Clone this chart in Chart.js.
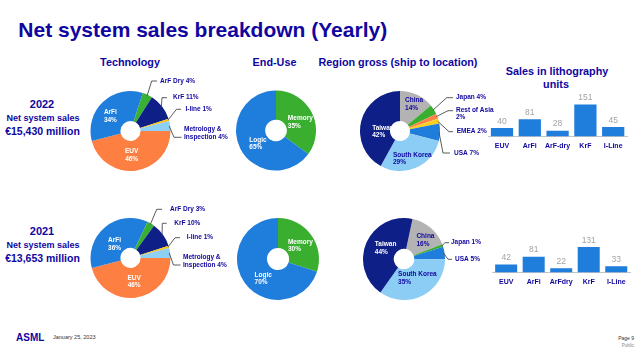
<!DOCTYPE html>
<html><head><meta charset="utf-8">
<script src="https://cdn.jsdelivr.net/npm/chart.js@4.4.1/dist/chart.umd.min.js"></script>
<style>
html,body{margin:0;padding:0;background:#fff;}
body{width:640px;height:355px;position:relative;overflow:hidden;font-family:"Liberation Sans",Arial,sans-serif;}
.t{position:absolute;white-space:nowrap;line-height:1;font-weight:bold;color:#10069f;}
canvas{position:absolute;}
</style></head><body>
<script>
// ---------- DATA ----------
const techLabels = ['EUV', 'ArFi', 'ArF Dry', 'KrF', 'I-line', 'Metrology &\nInspection'];
const tech2022 = [46, 34, 4, 11, 1, 4];
const tech2021 = [46, 36, 3, 10, 1, 4];
const endUseLabels = ['Memory', 'Logic'];
const endUse2022 = [35, 65];
const endUse2021 = [30, 70];
const region2022Labels = ['China', 'Japan', 'Rest of Asia', 'EMEA', 'USA', 'South Korea', 'Taiwan'];
const region2022 = [14, 4, 2, 2, 7, 29, 42];
const region2021Labels = ['China', 'Japan', 'USA', 'South Korea', 'Taiwan'];
const region2021 = [16, 1, 5, 35, 44];
const units2022Labels = ['EUV', 'ArFi', 'ArF-dry', 'KrF', 'I-Line'];
const units2022 = [40, 81, 28, 151, 45];
const units2021Labels = ['EUV', 'ArFi', 'ArFdry', 'KrF', 'I-Line'];
const units2021 = [42, 81, 22, 131, 33];
const yearLabels = ['2022', '2021'];
const netSalesLabels = ['€15,430 million', '€13,653 million'];

// ---------- STYLE ----------
const NAVY = '#10069f';
const FONT = '"Liberation Sans", Arial, sans-serif';
const techColors = ['#fd7f42', '#1f7ddb', '#37b034', '#0e1f87', '#f7c41c', '#8ecff5'];
const endUseColors = ['#3aae2f', '#1f7ddb'];
const region2022Colors = ['#b3b3b3', '#3aae2f', '#fe8549', '#fdd020', '#1f7ddb', '#8ccdf5', '#0f1f88'];
const region2021Colors = ['#b3b3b3', '#3aae2f', '#1f7ddb', '#8ccdf5', '#0f1f88'];
const BAR = '#1f7ddb';

function txt(s, x, y, size, opts) {
  opts = opts || {};
  const d = document.createElement('div');
  d.className = 't';
  d.textContent = s;
  d.style.fontSize = size + 'px';
  d.style.top = (y - 0.49 * size) + 'px';
  if (opts.weight) d.style.fontWeight = opts.weight;
  if (opts.color) d.style.color = opts.color;
  if (opts.align === 'center') { d.style.left = x + 'px'; d.style.transform = 'translateX(-50%)'; }
  else if (opts.align === 'right') { d.style.right = (640 - x) + 'px'; }
  else d.style.left = x + 'px';
  document.body.appendChild(d);
}

function mkCanvas(box) {
  const c = document.createElement('canvas');
  c.width = box.w; c.height = box.h;
  c.style.left = box.x + 'px'; c.style.top = box.y + 'px';
  c.style.width = box.w + 'px'; c.style.height = box.h + 'px';
  document.body.appendChild(c);
  return c;
}

const sliceLabels = {
  id: 'sliceLabels',
  afterDatasetsDraw(chart, args, cfg) {
    const meta = chart.getDatasetMeta(0);
    const ds = chart.data.datasets[0];
    const ctx = chart.ctx;
    ctx.save();
    ctx.font = 'bold 6.5px ' + FONT;
    ctx.textBaseline = 'middle';
    (cfg.inside || []).forEach(s => {
      const p = meta.data[s.i].tooltipPosition();
      const lines = [chart.data.labels[s.i], ds.data[s.i] + '%'];
      const x = p.x + (s.dx || 0), y = p.y + (s.dy || 0);
      const lh = 7.6;
      const w = Math.max(...lines.map(l => ctx.measureText(l).width));
      ctx.fillStyle = s.color;
      lines.forEach((l, k) => {
        const ly = y + (k - (lines.length - 1) / 2) * lh;
        if (s.align === 'left') { ctx.textAlign = 'left'; ctx.fillText(l, x - w / 2, ly); }
        else { ctx.textAlign = 'center'; ctx.fillText(l, x, ly); }
      });
    });
    (cfg.outside || []).forEach(s => {
      const a = meta.data[s.i].getProps(['x', 'y', 'startAngle', 'endAngle', 'outerRadius'], true);
      const mid = (a.startAngle + a.endAngle) / 2;
      const sx = a.x + Math.cos(mid) * (a.outerRadius - 1);
      const sy = a.y + Math.sin(mid) * (a.outerRadius - 1);
      ctx.strokeStyle = '#4a4a4a';
      ctx.lineWidth = 0.9;
      ctx.beginPath();
      ctx.moveTo(sx, sy);
      ctx.lineTo(a.x + s.elbow[0], a.y + s.elbow[1]);
      ctx.lineTo(a.x + s.end[0], a.y + s.end[1]);
      ctx.stroke();
      let lines = String(chart.data.labels[s.i]).split('\n');
      const v = ds.data[s.i] + '%';
      if (s.mode === 'two') lines.push(v);
      else lines[lines.length - 1] += ' ' + v;
      ctx.fillStyle = NAVY;
      ctx.textAlign = 'left';
      lines.forEach((l, k) => ctx.fillText(l, a.x + s.text[0], a.y + s.text[1] + k * (s.lh || 8)));
    });
    ctx.restore();
  }
};

function doughnut(box, cx, cy, r, labels, values, colors, rotation, cutout, labelCfg) {
  const c = mkCanvas(box);
  new Chart(c, {
    type: 'doughnut',
    data: { labels: labels, datasets: [{ data: values, backgroundColor: colors, borderWidth: 0, hoverOffset: 0, hoverBorderWidth: 0, offset: 0 }] },
    options: {
      responsive: false, devicePixelRatio: 1, animation: false, events: [],
      rotation: rotation, cutout: cutout,
      layout: { padding: { left: cx - r - box.x, top: cy - r - box.y, right: box.x + box.w - (cx + r), bottom: box.y + box.h - (cy + r) } },
      plugins: { legend: { display: false }, tooltip: { enabled: false }, sliceLabels: labelCfg }
    },
    plugins: [sliceLabels]
  });
}

const barValues = {
  id: 'barValues',
  afterDatasetsDraw(chart) {
    const meta = chart.getDatasetMeta(0);
    const ctx = chart.ctx;
    ctx.save();
    ctx.font = '8.5px ' + FONT;
    ctx.fillStyle = '#a3a3a3';
    ctx.textAlign = 'center';
    ctx.textBaseline = 'bottom';
    meta.data.forEach((b, i) => ctx.fillText(String(chart.data.datasets[0].data[i]), b.x, b.y - 2.5));
    ctx.restore();
  }
};

function bars(box, pad, labels, values, max) {
  const c = mkCanvas(box);
  new Chart(c, {
    type: 'bar',
    data: { labels: labels, datasets: [{ data: values, backgroundColor: BAR, borderWidth: 0, barPercentage: 0.8, categoryPercentage: 1.0 }] },
    options: {
      responsive: false, devicePixelRatio: 1, animation: false, events: [],
      layout: { padding: pad },
      plugins: { legend: { display: false }, tooltip: { enabled: false } },
      scales: {
        x: {
          grid: { display: false, drawTicks: false },
          border: { display: true, color: '#c6c6c6', width: 1 },
          ticks: { color: NAVY, font: { family: FONT, size: 7, weight: 'bold' }, padding: 5, maxRotation: 0, autoSkip: false }
        },
        y: { display: false, min: 0, max: max }
      }
    },
    plugins: [barValues]
  });
}

// ---------- TEXT ----------
txt('Net system sales breakdown (Yearly)', 18.3, 29.5, 21);
txt('Technology', 130, 62, 10.8, { align: 'center' });
txt('End-Use', 274.5, 62, 10.8, { align: 'center' });
txt('Region gross (ship to location)', 398, 62, 10.8, { align: 'center' });
txt('Sales in lithography', 557, 71.5, 10.8, { align: 'center' });
txt('units', 556, 84, 10.8, { align: 'center' });

txt(yearLabels[0], 42, 104, 11, { align: 'center' });
txt('Net system sales', 43, 118.3, 9, { align: 'center' });
txt(netSalesLabels[0], 42.5, 130.7, 10.5, { align: 'center' });
txt(yearLabels[1], 42, 231.7, 11, { align: 'center' });
txt('Net system sales', 43, 245, 9, { align: 'center' });
txt(netSalesLabels[1], 42.5, 257.7, 10.5, { align: 'center' });

txt('ASML', 16, 338, 10, {});
txt('January 25, 2023', 53, 338, 5.5, { weight: 'normal', color: '#333' });
txt('Page 9', 634, 338, 5, { weight: 'normal', color: '#333', align: 'right' });
txt('Public', 634, 346.5, 4.5, { weight: 'normal', color: '#888', align: 'right' });

// ---------- DOUGHNUTS ----------
doughnut({ x: 86, y: 72, w: 146, h: 112 }, 130.5, 131, 40, techLabels, tech2022, techColors, 90, '25%', {
  inside: [{ i: 1, dx: -3, dy: 3.5, color: '#fff' }, { i: 0, dx: -2, dy: -0.5, color: '#fff' }],
  outside: [
    { i: 2, elbow: [21.2, -50], end: [26.5, -50], text: [29.5, -50] },
    { i: 3, elbow: [31.5, -33.3], end: [36.5, -33.3], text: [42.5, -33.3] },
    { i: 4, elbow: [46, -21.7], end: [50.5, -21.7], text: [55, -21.7] },
    { i: 5, elbow: [43.5, 6.3], end: [51, 6.3], text: [53.5, -1.7], lh: 8 }
  ]
});
doughnut({ x: 86, y: 200, w: 146, h: 105 }, 130.5, 258, 40, techLabels, tech2021, techColors, 90, '25%', {
  inside: [{ i: 1, dx: 0, dy: 5.5, color: '#fff' }, { i: 0, dx: 0.5, dy: -1, color: '#fff' }],
  outside: [
    { i: 2, elbow: [26.2, -48.7], end: [31.5, -48.7], text: [39.5, -48.7] },
    { i: 3, elbow: [31.8, -34.7], end: [36.2, -34.7], text: [43.8, -34.7] },
    { i: 4, elbow: [44.5, -20.3], end: [49.5, -20.3], text: [56.2, -20.3] },
    { i: 5, elbow: [43, 7], end: [50, 7], text: [52.5, -0.5], lh: 8 }
  ]
});
doughnut({ x: 232, y: 86, w: 90, h: 90 }, 276, 130.5, 40, endUseLabels, endUse2022, endUseColors, 0, '27%', {
  inside: [{ i: 0, dx: 1.7, dy: 3.2, color: '#fff', align: 'left' }, { i: 1, dx: 4.6, dy: 1.7, color: '#fff', align: 'left' }]
});
doughnut({ x: 233, y: 214, w: 92, h: 92 }, 278, 259, 41, endUseLabels, endUse2021, endUseColors, 0, '27%', {
  inside: [{ i: 0, dx: 1.3, dy: 2.1, color: '#fff', align: 'left' }, { i: 1, dx: 6.3, dy: 4.4, color: '#fff', align: 'left' }]
});
doughnut({ x: 356, y: 86, w: 145, h: 92 }, 400, 131, 40, region2022Labels, region2022, region2022Colors, 0, '25%', {
  inside: [
    { i: 0, dx: 3.4, dy: -4.4, color: NAVY, align: 'left' },
    { i: 5, dx: 2.4, dy: 4.8, color: NAVY, align: 'left' },
    { i: 6, dx: 7.2, dy: 6.9, color: '#fff', align: 'left' }
  ],
  outside: [
    { i: 1, elbow: [46.7, -33.3], end: [53, -33.3], text: [56, -33.3] },
    { i: 2, elbow: [48, -20.3], end: [53, -20.3], text: [56, -20.3], mode: 'two', lh: 7 },
    { i: 3, elbow: [49, 0.7], end: [53, 0.7], text: [56.7, 0.7] },
    { i: 4, elbow: [43, 22], end: [50, 22], text: [54, 22] }
  ]
});
doughnut({ x: 359, y: 214, w: 140, h: 92 }, 404, 259, 41, region2021Labels, region2021, region2021Colors, 12, '25%', {
  inside: [
    { i: 0, dx: 4.8, dy: 0.5, color: NAVY, align: 'left' },
    { i: 3, dx: 1.7, dy: -3.4, color: NAVY, align: 'left' },
    { i: 4, dx: 5.1, dy: -0.7, color: '#fff', align: 'left' }
  ],
  outside: [
    { i: 1, elbow: [41, -16.3], end: [45, -16.3], text: [47, -16.3] },
    { i: 2, elbow: [44, 0.3], end: [48, 0.3], text: [51, 0.3] }
  ]
});

// ---------- BARS ----------
bars({ x: 478, y: 85, w: 160, h: 73 }, { left: 10.1, right: 10.9, top: 9, bottom: 3 }, units2022Labels, units2022, 200);
bars({ x: 484, y: 222, w: 156, h: 72 }, { left: 8.4, right: 10, top: 11.7, bottom: 3 }, units2021Labels, units2021, 200);
</script>
</body></html>
